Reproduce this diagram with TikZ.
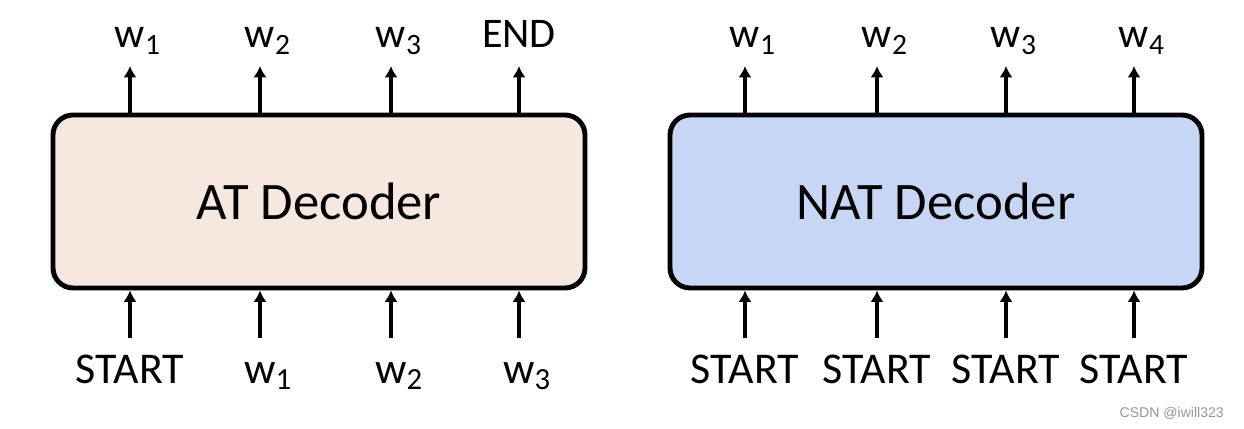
\documentclass[tikz,border=0pt]{standalone}
\usepackage{fontspec}
\setmainfont{Carlito}
\newfontfamily\markfont{Liberation Sans}
\usetikzlibrary{arrows.meta}
\definecolor{atfill}{RGB}{246,232,222}
\definecolor{natfill}{RGB}{200,214,246}
\definecolor{markgray}{RGB}{150,150,150}
\tikzset{
decoder/.style={draw=black, line width=2.8pt, rounded corners=0.4cm,
  minimum width=10.64cm, minimum height=3.46cm, inner sep=0pt,
  font=\fontsize{30}{36}\selectfont},
outlbl/.style={inner sep=0pt, anchor=south, text depth=0.36cm,
  font=\fontsize{24}{28}\selectfont},
inlbl/.style={inner sep=0pt, anchor=north, text height=0.9cm,
  font=\fontsize{25}{30}\selectfont},
arr/.style={line width=2.2pt, -{Latex[length=6.5pt,width=7.5pt]}}
}
\newcommand{\wsub}[1]{w\rlap{\textsubscript{#1}}}
\begin{document}
\begin{tikzpicture}
\useasboundingbox (0,0) rectangle (24.88,8.58);
\node[decoder, fill=atfill] (atdec) at (6.38,4.55) {AT Decoder};
\node[decoder, fill=natfill] (natdec) at (18.72,4.55) {NAT Decoder};
% AT outputs
\node[outlbl] (atout1) at (2.60,7.26) {\wsub{1}};
\node[outlbl] (atout2) at (5.20,7.26) {\wsub{2}};
\node[outlbl] (atout3) at (7.82,7.26) {\wsub{3}};
\node[outlbl] (atout4) at (10.38,7.26) {END};
% AT inputs
\node[inlbl] (atin1) at (2.60,1.82) {START};
\node[inlbl] (atin2) at (5.20,1.82) {\wsub{1}};
\node[inlbl] (atin3) at (7.82,1.82) {\wsub{2}};
\node[inlbl] (atin4) at (10.38,1.82) {\wsub{3}};
% NAT outputs
\node[outlbl] (natout1) at (14.90,7.26) {\wsub{1}};
\node[outlbl] (natout2) at (17.54,7.26) {\wsub{2}};
\node[outlbl] (natout3) at (20.12,7.26) {\wsub{3}};
\node[outlbl] (natout4) at (22.68,7.26) {\wsub{4}};
% NAT inputs
\node[inlbl] (natin1) at (14.90,1.82) {START};
\node[inlbl] (natin2) at (17.54,1.82) {START};
\node[inlbl] (natin3) at (20.12,1.82) {START};
\node[inlbl] (natin4) at (22.68,1.82) {START};
\draw[arr] (atdec.north -| atout1) -- (atout1);
\draw[arr] (atdec.north -| atout2) -- (atout2);
\draw[arr] (atdec.north -| atout3) -- (atout3);
\draw[arr] (atdec.north -| atout4) -- (atout4);
\draw[arr] (atin1) -- (atin1 |- atdec.south);
\draw[arr] (atin2) -- (atin2 |- atdec.south);
\draw[arr] (atin3) -- (atin3 |- atdec.south);
\draw[arr] (atin4) -- (atin4 |- atdec.south);
\draw[arr] (natdec.north -| natout1) -- (natout1);
\draw[arr] (natdec.north -| natout2) -- (natout2);
\draw[arr] (natdec.north -| natout3) -- (natout3);
\draw[arr] (natdec.north -| natout4) -- (natout4);
\draw[arr] (natin1) -- (natin1 |- natdec.south);
\draw[arr] (natin2) -- (natin2 |- natdec.south);
\draw[arr] (natin3) -- (natin3 |- natdec.south);
\draw[arr] (natin4) -- (natin4 |- natdec.south);
\node[anchor=east, text=markgray, font=\markfont\fontsize{8}{9}\selectfont] (mark) at (24.6,0.32) {CSDN @iwill323};
\end{tikzpicture}
\end{document}
